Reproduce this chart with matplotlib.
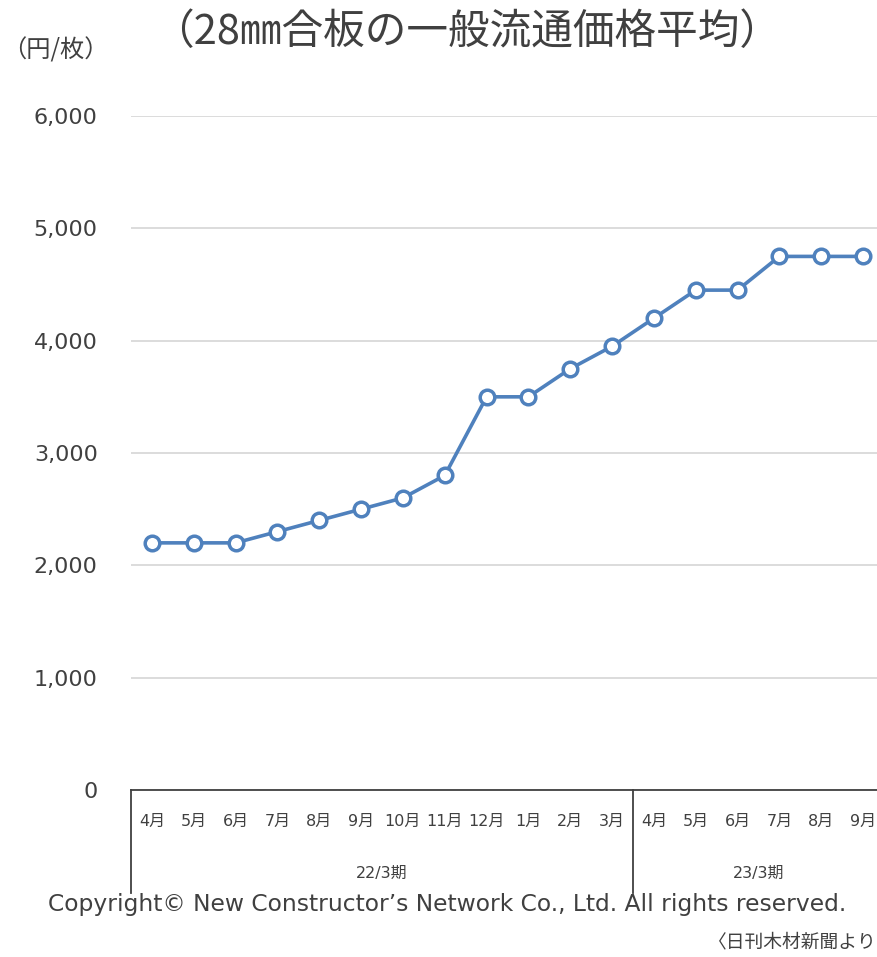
import matplotlib.pyplot as plt
import matplotlib.transforms as mtransforms

plt.rcParams['font.family'] = ['DejaVu Sans', 'Noto Sans CJK JP']

months = ['4月', '5月', '6月', '7月', '8月', '9月', '10月', '11月', '12月', '1月', '2月', '3月',
          '4月', '5月', '6月', '7月', '8月', '9月']
prices = [2200, 2200, 2200, 2300, 2400, 2500, 2600, 2800, 3500, 3500, 3750, 3950,
          4200, 4450, 4450, 4750, 4750, 4750]
periods = ['22/3期', '23/3期']
period_len = [12, 6]
yticks = [0, 1000, 2000, 3000, 4000, 5000, 6000]

txt = '#404040'
blue = '#4f81bd'
cjk = ['Noto Sans CJK JP', 'DejaVu Sans']

fig = plt.figure(figsize=(8.78, 9.57), dpi=100)
ax = fig.add_axes([131 / 878, 1 - 790 / 957, 753 / 878, 674 / 957])

x = list(range(len(prices)))
ax.plot(x, prices, color=blue, lw=2.6, marker='o', ms=10.5, mfc='white', mec=blue, mew=2.5, zorder=3)

ax.set_xlim(-0.5, len(prices) - 0.5)
ax.set_ylim(0, 6000)
ax.set_yticks(yticks)
ax.set_yticklabels([f'{v:,}' for v in yticks], fontsize=16, color=txt)
ax.set_xticks(x)
ax.set_xticklabels(months, fontsize=11.5, color=txt)
ax.tick_params(axis='both', length=0)
ax.tick_params(axis='y', pad=24)
ax.tick_params(axis='x', pad=17)
ax.grid(axis='y', color='#d9d9d9', lw=1.3)
ax.set_axisbelow(True)
for s in ['top', 'right', 'left']:
    ax.spines[s].set_visible(False)
ax.spines['bottom'].set_color('#404040')
ax.spines['bottom'].set_linewidth(1.3)

# group separators and period labels
tr = mtransforms.blended_transform_factory(ax.transData, ax.transAxes)
start = -0.5
ax.plot([start, start], [0, -0.153], transform=tr, color='#404040', lw=1.3, clip_on=False)
for name, n in zip(periods, period_len):
    end = start + n
    ax.plot([end, end], [0, -0.153], transform=tr, color='#404040', lw=1.3, clip_on=False)
    ax.text((start + end) / 2, -0.124, name, transform=tr, ha='center', va='center',
            fontsize=11.5, color=txt)
    start = end

fig.text(467 / 878, 1 - 32 / 957, '（28㎜合板の一般流通価格平均）', ha='center', va='center',
         fontsize=30, color='#404040', family=cjk)
fig.text(55 / 878, 1 - 50 / 957, '（円/枚）', ha='center', va='center', fontsize=17.5,
         color=txt, family=cjk)
fig.text(447 / 878, 1 - 905 / 957, 'Copyright© New Constructor’s Network Co., Ltd. All rights reserved.',
         ha='center', va='center', fontsize=16.8, color='#404040')
fig.text(877 / 878, 1 - 942 / 957, '〈日刊木材新聞より', ha='right', va='center', fontsize=13.5, color='#404040')

fig.savefig('out.png', dpi=100)
